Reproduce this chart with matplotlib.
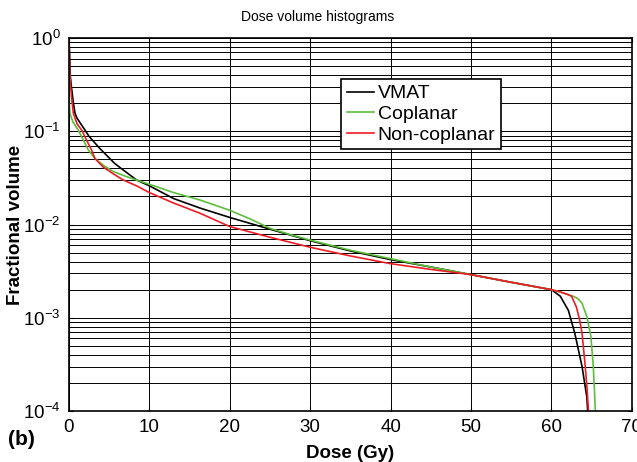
import matplotlib
matplotlib.use("Agg")
from matplotlib import pyplot as plt
from matplotlib.ticker import LogLocator, NullFormatter, MultipleLocator

plt.rcParams['font.family'] = ['Liberation Sans', 'DejaVu Sans']
plt.rcParams['mathtext.fontset'] = 'custom'
plt.rcParams['mathtext.rm'] = 'Liberation Sans'
plt.rcParams['mathtext.it'] = 'Liberation Sans:italic'
plt.rcParams['mathtext.bf'] = 'Liberation Sans:bold'
plt.rcParams['mathtext.default'] = 'regular'
plt.rcParams['axes.unicode_minus'] = False

# dose (Gy) / fractional volume
vmat_dose = [0, 0.1, 0.15, 0.3, 0.55, 0.75, 1.0, 1.99, 2.5, 3.86, 5.7, 8.4, 10, 13,
             16.3, 20, 25, 30, 35, 40, 45, 50, 55, 60, 61.1, 62.1, 62.9, 63.8, 64.4, 64.5]
vmat_vol = [1.0, 0.6, 0.4, 0.3, 0.2, 0.156, 0.138, 0.103, 0.088, 0.065, 0.045, 0.030,
            0.026, 0.019, 0.015, 0.0119, 0.0089, 0.0067, 0.0052, 0.0042, 0.0035, 0.0029,
            0.0024, 0.0020, 0.0017, 0.0012, 0.00068, 0.0003, 0.00014, 0.0001]

copl_dose = [0, 0.03, 0.12, 0.5, 1.16, 1.8, 2.4, 3.23, 4.3, 5.5, 7, 8.4, 10, 13, 16.3,
             20, 22.5, 25, 27.5, 30, 35, 40, 45, 50, 55, 60, 61, 62, 62.7, 63.3, 63.8,
             64.4, 64.9, 65.2, 65.35, 65.45]
copl_vol = [0.32, 0.2, 0.156, 0.125, 0.103, 0.08, 0.063, 0.051, 0.043, 0.037, 0.033,
            0.030, 0.027, 0.022, 0.0183, 0.0142, 0.0115, 0.0091, 0.0078, 0.0068, 0.0053,
            0.0043, 0.0035, 0.0029, 0.0024, 0.0020, 0.0019, 0.00178, 0.0017, 0.0016,
            0.00143, 0.00103, 0.00063, 0.0003, 0.00016, 0.0001]

noncopl_dose = [0, 0.05, 0.15, 0.3, 0.54, 1.0, 1.58, 2.2, 2.8, 3.23, 4.3, 5.5, 6.75, 8.4,
                10, 13, 16.3, 20, 25, 30, 35, 40, 45, 50, 55, 60, 61, 62, 62.5, 63.1,
                63.5, 63.8, 64.2, 64.45, 64.6]
noncopl_vol = [1.0, 0.6, 0.35, 0.24, 0.156, 0.12, 0.103, 0.08, 0.063, 0.051, 0.041, 0.035,
               0.030, 0.026, 0.022, 0.017, 0.0132, 0.0095, 0.0073, 0.0057, 0.0046, 0.0038,
               0.0033, 0.0029, 0.0024, 0.0020, 0.0019, 0.00178, 0.0017, 0.0013, 0.00095,
               0.00068, 0.0003, 0.00016, 0.0001]

fig = plt.figure(figsize=(6.37, 4.62), dpi=100)
ax = fig.add_axes([0.1083, 0.1104, 0.8837, 0.8073])

ax.semilogy(vmat_dose, vmat_vol, color='k', lw=1.2, label='VMAT')
ax.semilogy(copl_dose, copl_vol, color='#5cbf3c', lw=1.2, label='Coplanar')
ax.semilogy(noncopl_dose, noncopl_vol, color='#ee1c24', lw=1.2, label='Non-coplanar')

ax.set_xlim(0, 70)
ax.set_ylim(1e-4, 1)
ax.xaxis.set_major_locator(MultipleLocator(10))
ax.yaxis.set_major_locator(LogLocator(base=10, numticks=10))
ax.yaxis.set_minor_locator(LogLocator(base=10, subs=range(2, 10), numticks=10))
ax.yaxis.set_minor_formatter(NullFormatter())
ax.grid(True, which='major', color='k', lw=0.7)
ax.grid(True, which='minor', axis='y', color='k', lw=0.7)

ax.tick_params(which='both', direction='in', top=True, right=True, labelsize=13.5)
ax.tick_params(which='major', length=3, pad=6)
ax.tick_params(which='minor', length=2)
for s in ax.spines.values():
    s.set_linewidth(1.2)

ax.set_title('Dose volume histograms', fontsize=10, x=0.442, pad=12)
ax.set_xlabel('Dose (Gy)', fontsize=13.5, fontweight='bold')
ax.xaxis.set_label_coords(0.5, -0.09)
ax.set_ylabel('Fractional volume', fontsize=13.5, fontweight='bold')
ax.yaxis.set_label_coords(-0.08, 0.5)
fig.text(0.012, 0.048, '(b)', fontsize=15, fontweight='bold', va='center')

leg = ax.legend(loc='upper left', bbox_to_anchor=(0.483, 0.89), borderaxespad=0,
                fontsize=14, fancybox=False, framealpha=1, edgecolor='k',
                handlelength=1.4, handletextpad=0.2, borderpad=0.3, labelspacing=0.15)
leg.get_frame().set_linewidth(1.2)

fig.savefig('out.png', dpi=100)
